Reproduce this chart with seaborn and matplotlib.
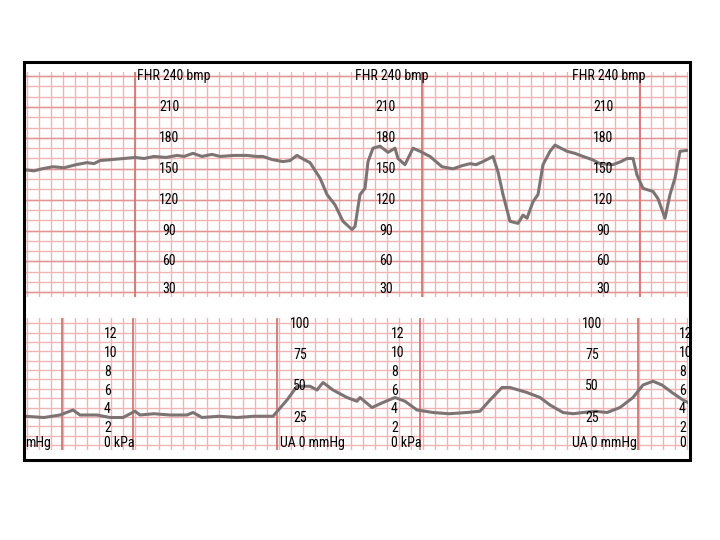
import numpy as np
import matplotlib
matplotlib.use("Agg")
import matplotlib.pyplot as plt
import seaborn as sns
from matplotlib.patches import Rectangle

sns.set_theme(style="white")
plt.rcParams["font.family"] = ["Roboto Condensed", "Liberation Sans Narrow", "Liberation Sans", "DejaVu Sans"]
plt.rcParams["text.color"] = "black"

# Fetal heart rate trace (time in s from strip start, bpm)
fhr_time = [1, 10, 18, 29, 40, 52, 63, 70, 76, 88, 100, 111, 120, 130, 142,
            153, 160, 169, 178, 188, 196, 210, 223, 232, 239, 248, 259, 266, 273, 280,
            286, 296, 303, 311, 319, 328, 331, 336, 341, 344, 349, 356, 364, 371, 374,
            381, 389, 396, 406, 418, 429, 438, 446, 452, 459, 469, 474, 479, 486, 494,
            499, 503, 509, 514, 519, 526, 531, 543, 551, 559, 568, 576, 589, 597, 603,
            609, 613, 619, 629, 634, 641, 646, 651, 656, 664]
fhr_bpm = [149, 148, 150, 152, 151, 154, 156, 155, 158, 159, 160, 161, 160, 162, 161,
           163, 162, 165, 162, 164, 162, 163, 163, 162, 162, 159, 157, 158, 163, 159,
           156, 141, 125, 115, 99, 91, 94, 125, 131, 157, 170, 172, 166, 170, 160,
           154, 170, 167, 162, 152, 150, 153, 155, 154, 157, 162, 147, 125, 99, 97,
           105, 102, 118, 125, 154, 167, 173, 167, 165, 162, 159, 155, 154, 157, 160,
           160, 144, 131, 128, 121, 102, 125, 141, 167, 168]

# Uterine activity trace (time in s, mmHg)
ua_time = [1, 20, 36, 49, 56, 73, 86, 99, 111, 116, 130, 146, 163, 169, 178,
           195, 213, 230, 249, 263, 273, 286, 293, 299, 309, 323, 333, 336, 348, 359,
           371, 381, 393, 409, 425, 443, 456, 466, 478, 486, 503, 516, 526, 539, 549,
           559, 571, 583, 596, 609, 619, 629, 638, 648, 659, 664]
ua_mmhg = [23, 22, 24, 28, 24, 24, 22, 22, 27, 24, 25, 24, 24, 26, 22,
           23, 22, 23, 23, 36, 47, 47, 44, 50, 44, 38, 35, 38, 30, 34,
           38, 35, 28, 26, 25, 26, 27, 36, 46, 46, 42, 38, 32, 26, 25,
           26, 27, 26, 30, 38, 48, 51, 48, 42, 36, 34]

fhr_ticks = [210, 180, 150, 120, 90, 60, 30]
ua_mmhg_ticks = [100, 75, 50, 25]
ua_kpa_ticks = [12, 10, 8, 6, 4, 2]

W, H = 720, 540
fig = plt.figure(figsize=(W / 100, H / 100), dpi=100)
fig.patch.set_facecolor("white")


def px_axes(x0, y0, x1, y1):
    return fig.add_axes([x0 / W, 1 - y1 / H, (x1 - x0) / W, (y1 - y0) / H])


minor_c = "#f0b4b4"
major_c = "#e39595"
thick_c = "#d87474"
trace_c = "#7e7373"
vlines = np.arange(2.7, 666, 12)
FS = 10


def paper(ax, hminor, hmajor, thick):
    ax.set_facecolor("white")
    for x in vlines:
        ax.axvline(x, color=minor_c, lw=1.0, zorder=1)
    for y in hminor:
        ax.axhline(y, color=minor_c, lw=1.0, zorder=1)
    for y in hmajor:
        ax.axhline(y, color=major_c, lw=1.0, zorder=1)
    for x in thick:
        ax.axvline(x, color=thick_c, lw=1.3, zorder=1)
    ax.set_xticks([])
    ax.set_yticks([])
    for s in ax.spines.values():
        s.set_visible(False)


# FHR panel
ax1 = px_axes(25, 72, 688, 297)
ax1.set_xlim(1, 664)
ax1.set_ylim(25.5, 244)
paper(ax1, np.arange(30, 245, 10), np.arange(30, 245, 30), [111, 398, 616])
sns.lineplot(x=fhr_time, y=fhr_bpm, ax=ax1, color=trace_c, lw=2.2, estimator=None, zorder=3)
ax1.set_xlabel("")
ax1.set_ylabel("")
for x0 in [113, 331, 548]:
    ax1.text(x0, 240, "FHR 240 bmp", fontsize=FS, ha="left", va="center", zorder=4)
for xc in [145, 362, 579]:
    for v in fhr_ticks:
        ax1.text(xc, v + (3 if v == 30 else 0), str(v), fontsize=FS, ha="center", va="center", zorder=4)

# UA panel
ax2 = px_axes(25, 318, 688, 450)
ax2.set_xlim(1, 664)
ax2.set_ylim(-4, 101.6)
paper(ax2, np.arange(0, 101, 7.5), [], [38, 109, 253, 396, 614])
sns.lineplot(x=ua_time, y=ua_mmhg, ax=ax2, color=trace_c, lw=2.2, estimator=None, zorder=3)
ax2.set_xlabel("")
ax2.set_ylabel("")
for xl in [80, 367, 655]:
    for k in ua_kpa_ticks:
        ax2.text(xl, k * 7.5 - 1.5, str(k), fontsize=FS, ha="left", va="center", zorder=4)
    ax2.text(xl, 1.5, "0 kPa" if xl < 600 else "0", fontsize=FS, ha="left", va="center", zorder=4)
for xc in [276, 568]:
    for v in ua_mmhg_ticks:
        ax2.text(xc, v - 3, str(v), fontsize=FS, ha="center", va="center", zorder=4)
for xl in [256, 548]:
    ax2.text(xl, 1.5, "UA 0 mmHg", fontsize=FS, ha="left", va="center", zorder=4)
ax2.text(1, 1.5, "mHg", fontsize=FS, ha="left", va="center", zorder=4)

# outer frame
fig.patches.append(Rectangle((24 / W, 1 - 460 / H), 666 / W, 398 / H, transform=fig.transFigure,
                             fill=False, ec="black", lw=2.2, zorder=10))

fig.savefig("out.png", dpi=100)
